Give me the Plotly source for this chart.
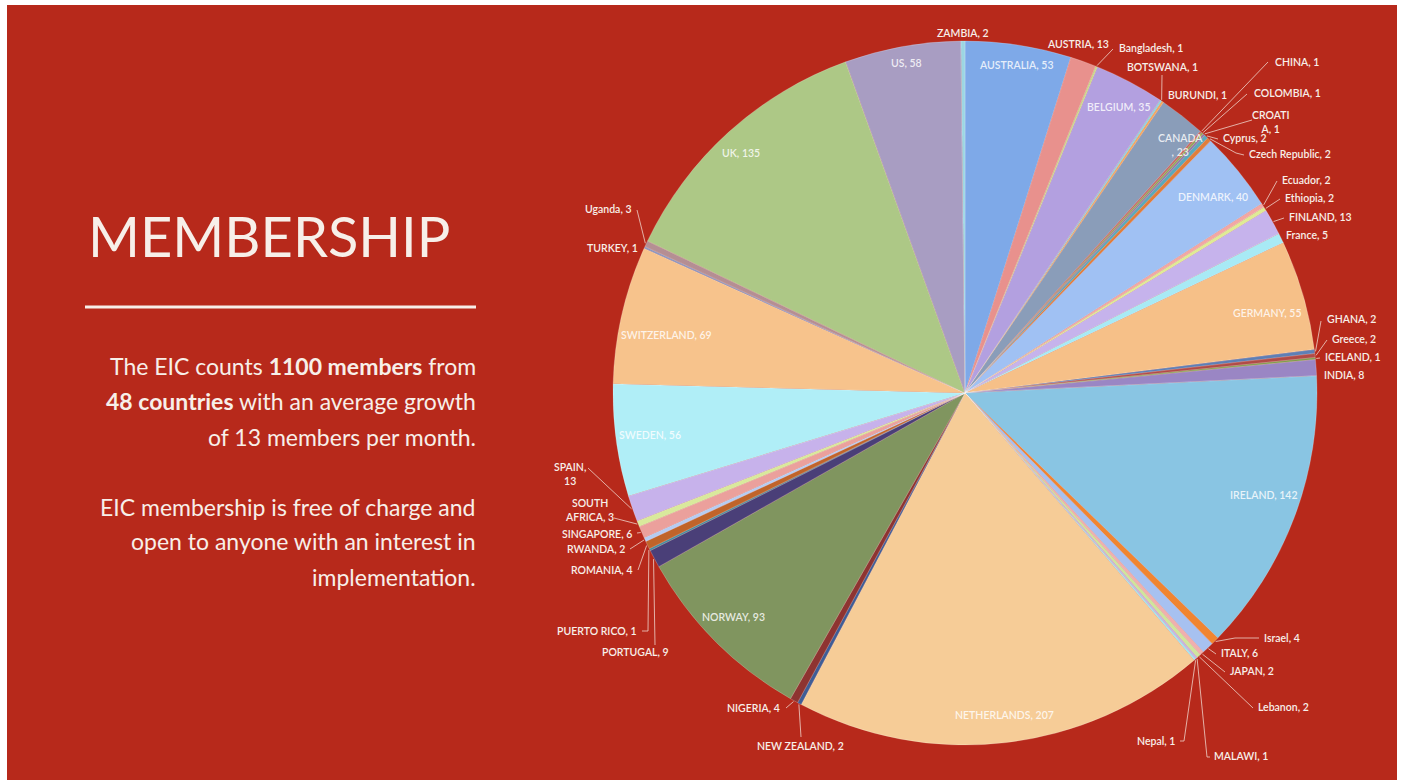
import math
import plotly.graph_objects as go

# ---------------- data ----------------
countries = ["AUSTRALIA", "AUSTRIA", "Bangladesh", "BELGIUM", "BOTSWANA", "BURUNDI",
             "CANADA", "CHINA", "COLOMBIA", "CROATIA", "Cyprus", "Czech Republic",
             "DENMARK", "Ecuador", "Ethiopia", "FINLAND", "France", "GERMANY",
             "GHANA", "Greece", "ICELAND", "INDIA", "IRELAND", "Israel",
             "ITALY", "JAPAN", "Lebanon", "MALAWI", "Nepal", "NETHERLANDS",
             "NEW ZEALAND", "NIGERIA", "NORWAY", "PORTUGAL", "PUERTO RICO", "ROMANIA",
             "RWANDA", "SINGAPORE", "SOUTH AFRICA", "SPAIN", "SWEDEN", "SWITZERLAND",
             "TURKEY", "Uganda", "UK", "US", "ZAMBIA"]
members = [53, 13, 1, 35, 1, 1,
           23, 1, 1, 1, 2, 2,
           40, 2, 2, 13, 5, 55,
           2, 2, 1, 8, 142, 4,
           6, 2, 2, 1, 1, 207,
           2, 4, 93, 9, 1, 4,
           2, 6, 3, 13, 56, 69,
           1, 3, 135, 58, 2]

# ---------------- styles ----------------
slice_colors = ["#7ea9e8", "#e8918d", "#c9d98a", "#b3a0e0", "#8ed3e3", "#f2a85e",
                "#8a9db9", "#c46a66", "#8fa758", "#8c7aae", "#5aa9bc", "#e07e3a",
                "#a0c1f3", "#f2a7a4", "#dfeb95", "#c6b3ec", "#a8eaf5", "#f6c088",
                "#5e7fb5", "#b14b47", "#7e9a48", "#9a86c4", "#89c5e3", "#f08530",
                "#a7c1f0", "#f0afae", "#cfe59c", "#c4b3e6", "#a2e4f0", "#f6cc97",
                "#3e5d96", "#8e3431", "#80955f", "#4a3f78", "#3c8ca0", "#c0642a",
                "#b5ccf2", "#eba09c", "#d9e99c", "#c7b2eb", "#b0eef7", "#f7c38c",
                "#8a96c0", "#b58e93", "#adc886", "#a89dc2", "#9cd6e3"]

W, H = 1404, 782
CX, CY, R = 965, 393, 352
BG_RED = "#B7291B"
TXT = "#f7efe9"
FONT = "Lato, 'Open Sans', sans-serif"


def px(x):
    return x / W


def py(y):
    return 1 - y / H


fig = go.Figure(go.Pie(
    labels=countries, values=members, sort=False,
    direction="clockwise", rotation=0,
    marker=dict(colors=slice_colors, line=dict(color="rgba(255,255,255,0.35)", width=0.6)),
    textinfo="none", hoverinfo="label+value", showlegend=False,
    domain=dict(x=[px(CX - R), px(CX + R)], y=[py(CY + R), py(CY - R)]),
))

# slice mid-angles from the data
total = sum(members)
mid_angle = {}
cum = 0
for c, v in zip(countries, members):
    mid_angle[c] = math.radians((cum + v / 2) / total * 360)
    cum += v
value_of = dict(zip(countries, members))


def edge(c, r=R):
    a = mid_angle[c]
    return CX + r * math.sin(a), CY - r * math.cos(a)


breaks = {"CROATIA": 6, "CANADA": 6, "SOUTH AFRICA": 5, "SPAIN": 6}


def label_text(c):
    s = f"{c}, {value_of[c]}"
    if c in breaks:
        k = breaks[c]
        s = s[:k].strip() + "<br>" + s[k:].strip()
    return s


# outside label placement: (x, y, anchor, leader waypoints)
outside = {
    "ZAMBIA": (963, 33, "center", None),
    "AUSTRIA": (1078, 44, "center", None),
    "Bangladesh": (1117, 48, "left", [(1113, 49)]),
    "BOTSWANA": (1125, 67, "left", [(1162, 75)]),
    "BURUNDI": (1166, 95, "left", None),
    "CHINA": (1273, 62, "left", [(1268, 62)]),
    "COLOMBIA": (1252, 93, "left", [(1247, 94)]),
    "CROATIA": (1271, 122, "center", [(1252, 120)]),
    "Cyprus": (1221, 138, "left", [(1218, 139)]),
    "Czech Republic": (1247, 154, "left", [(1236, 153), (1244, 155)]),
    "Ecuador": (1280, 180, "left", [(1277, 181)]),
    "Ethiopia": (1283, 198, "left", [(1280, 199)]),
    "FINLAND": (1287, 217, "left", [(1284, 218)]),
    "France": (1284, 235, "left", None),
    "GHANA": (1325, 319, "left", [(1321, 321)]),
    "Greece": (1330, 339, "left", [(1327, 340)]),
    "ICELAND": (1323, 357, "left", [(1320, 358)]),
    "INDIA": (1322, 375, "left", None),
    "Israel": (1262, 638, "left", [(1235, 638), (1259, 638)]),
    "ITALY": (1219, 653, "left", [(1216, 654)]),
    "JAPAN": (1228, 671, "left", [(1225, 672)]),
    "Lebanon": (1256, 707, "left", [(1253, 708)]),
    "MALAWI": (1212, 756, "left", [(1207, 757), (1210, 757)]),
    "Nepal": (1177, 741, "right", [(1184, 741), (1180, 741)]),
    "NEW ZEALAND": (800, 746, "center", [(801, 737)]),
    "NIGERIA": (782, 708, "right", [(786, 708)]),
    "PORTUGAL": (671, 652, "right", [(655, 645)]),
    "PUERTO RICO": (639, 631, "right", [(648, 631), (642, 631)]),
    "ROMANIA": (635, 570, "right", [(638, 570)]),
    "RWANDA": (627, 549, "right", [(630, 549)]),
    "SINGAPORE": (634, 534, "right", [(637, 533)]),
    "SOUTH AFRICA": (589, 510, "center", [(614, 518)]),
    "SPAIN": (570, 474, "center", [(588, 468)]),
    "TURKEY": (640, 248, "right", None),
    "Uganda": (634, 209, "right", [(637, 210)]),
}

# inside label placement
inside = {
    "AUSTRALIA": (1016, 65), "BELGIUM": (1119, 107), "CANADA": (1180, 145),
    "DENMARK": (1213, 197), "GERMANY": (1267, 313), "IRELAND": (1263, 495),
    "NETHERLANDS": (1004, 715), "NORWAY": (734, 617), "SWEDEN": (650, 435),
    "SWITZERLAND": (666, 335), "UK": (741, 153), "US": (906, 63),
}

shapes = [
    dict(type="rect", xref="paper", yref="paper", x0=px(7), x1=px(1397), y0=py(780), y1=py(5),
         fillcolor=BG_RED, line=dict(width=0), layer="below"),
    dict(type="line", xref="paper", yref="paper", x0=px(85), x1=px(476), y0=py(307), y1=py(307),
         line=dict(color=TXT, width=3)),
]

annotations = []
for c, (x, y, anchor, pts) in outside.items():
    annotations.append(dict(x=px(x), y=py(y), xref="paper", yref="paper", text=label_text(c),
                            showarrow=False, xanchor=anchor, yanchor="middle", align="center",
                            font=dict(family=FONT, size=10.5, color=TXT, weight=600)))
    if pts:
        ax, ay = edge(c, R + 1)
        path = f"M {px(ax)} {py(ay)}" + "".join(f" L {px(a)} {py(b)}" for a, b in pts)
        shapes.append(dict(type="path", xref="paper", yref="paper", path=path,
                           line=dict(color="rgba(235,200,190,0.85)", width=1)))

for c, (x, y) in inside.items():
    annotations.append(dict(x=px(x), y=py(y), xref="paper", yref="paper", text=label_text(c),
                            showarrow=False, xanchor="center", yanchor="middle", align="center",
                            font=dict(family=FONT, size=10.5, color="rgba(255,255,255,0.82)", weight=600)))

# left-hand text
annotations.append(dict(x=px(86), y=py(236), xref="paper", yref="paper", text="MEMBERSHIP",
                        showarrow=False, xanchor="left", yanchor="middle",
                        font=dict(family=FONT, size=56, color=TXT, weight=400)))

para = [
    ("The EIC counts <b>1100 members</b> from", 366),
    ("<b>48 countries</b> with an average growth", 401),
    ("of 13 members per month.", 437),
    ("EIC membership is free of charge and", 507),
    ("open to anyone with an interest in", 541),
    ("implementation.", 577),
]
for t, y in para:
    annotations.append(dict(x=px(478), y=py(y), xref="paper", yref="paper", text=t,
                            showarrow=False, xanchor="right", yanchor="middle",
                            font=dict(family=FONT, size=23, color=TXT)))

fig.update_layout(
    width=W, height=H, margin=dict(l=0, r=0, t=0, b=0),
    paper_bgcolor="white", plot_bgcolor="rgba(0,0,0,0)",
    shapes=shapes, annotations=annotations, showlegend=False,
)

fig.write_html("out.html")
